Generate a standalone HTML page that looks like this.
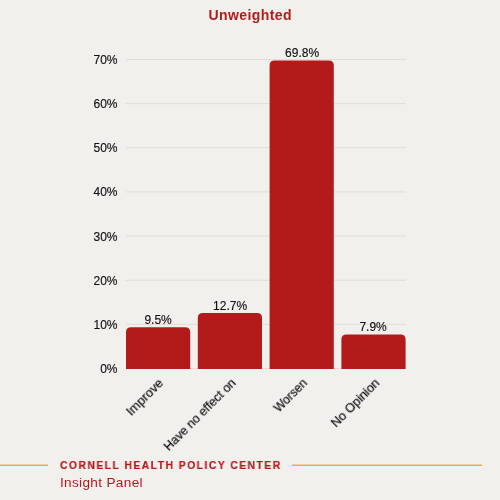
<!DOCTYPE html>
<html><head><meta charset="utf-8">
<style>
*{margin:0;padding:0;box-sizing:border-box}
html,body{width:500px;height:500px;overflow:hidden;background:#f2f0ed;font-family:"Liberation Sans",sans-serif}
.a{position:absolute;will-change:transform}
.title{left:0;width:500px;top:6.8px;text-align:center;font-weight:bold;font-size:14px;color:#b31b1b;letter-spacing:0.4px;padding-left:0.4px}
.yl{left:60px;width:57.5px;text-align:right;font-size:12px;color:#111;-webkit-text-stroke:0.15px #111;line-height:14px}
.g{left:126px;width:280px;height:1px;background:#dfddd9}
.bar{background:#b31b1b;border-radius:4px 4px 0 0;width:64px}
.vl{font-size:12px;color:#111;-webkit-text-stroke:0.15px #111;text-align:center;width:64.2px;line-height:14px}
.xl{font-size:12.5px;color:#0d0d0d;-webkit-text-stroke:0.2px #0d0d0d;white-space:nowrap;transform-origin:right top;transform:rotate(-45deg);text-align:right;line-height:14px}
.ln{height:1px;background:#f7a540;box-shadow:0 -1px 0 rgba(247,165,64,0.45)}
.ft{left:60px;top:458.8px;font-weight:bold;font-size:11.5px;color:#b31b1b;letter-spacing:1.7px;-webkit-text-stroke:0.2px #b31b1b;transform-origin:left top;transform:scaleX(0.893)}
.ip{left:60px;top:475.3px;font-size:13.6px;letter-spacing:0.33px;color:#b31b1b}
</style></head><body>
<div class="a title">Unweighted</div>


<svg class="a" style="left:0;top:0" width="500" height="500" viewBox="0 0 500 500"><rect x="126" y="59.00" width="280" height="1" fill="#dfddd9"/><rect x="126" y="103.14" width="280" height="1" fill="#dfddd9"/><rect x="126" y="147.29" width="280" height="1" fill="#dfddd9"/><rect x="126" y="191.43" width="280" height="1" fill="#dfddd9"/><rect x="126" y="235.57" width="280" height="1" fill="#dfddd9"/><rect x="126" y="279.71" width="280" height="1" fill="#dfddd9"/><rect x="126" y="323.86" width="280" height="1" fill="#dfddd9"/><rect x="126" y="368.00" width="280" height="1" fill="#dfddd9"/><path d="M126.00 369V332.35Q126.00 327.35 131.00 327.35H185.20Q190.20 327.35 190.20 332.35V369Z" fill="#b31b1b"/><path d="M197.80 369V318.05Q197.80 313.05 202.80 313.05H257.00Q262.00 313.05 262.00 318.05V369Z" fill="#b31b1b"/><path d="M269.60 369V65.60Q269.60 60.60 274.60 60.60H328.80Q333.80 60.60 333.80 65.60V369Z" fill="#b31b1b"/><path d="M341.40 369V339.40Q341.40 334.40 346.40 334.40H400.60Q405.60 334.40 405.60 339.40V369Z" fill="#b31b1b"/></svg>
<div class="a yl" style="top:53.00px">70%</div>
<div class="a yl" style="top:97.14px">60%</div>
<div class="a yl" style="top:141.29px">50%</div>
<div class="a yl" style="top:185.43px">40%</div>
<div class="a yl" style="top:229.57px">30%</div>
<div class="a yl" style="top:273.71px">20%</div>
<div class="a yl" style="top:317.86px">10%</div>
<div class="a yl" style="top:362.00px">0%</div>


<div class="a vl" style="left:126px;top:313px">9.5%</div>
<div class="a vl" style="left:197.8px;top:299px">12.7%</div>
<div class="a vl" style="left:269.6px;top:45.6px">69.8%</div>
<div class="a vl" style="left:341.4px;top:320px">7.9%</div>

<div class="a xl" style="right:343.5px;top:376px;font-size:12.8px">Improve</div>
<div class="a xl" style="right:271px;top:376px;font-size:12.25px">Have no effect on</div>
<div class="a xl" style="right:200px;top:376px;font-size:12px">Worsen</div>
<div class="a xl" style="right:127px;top:376px">No Opinion</div>

<div class="a ln" style="left:0;width:48px;top:465px;height:1px"></div>
<div class="a ln" style="left:292px;width:190px;top:465px;height:1px"></div>
<div class="a ft">CORNELL HEALTH POLICY CENTER</div>
<div class="a ip">Insight Panel</div>
</body></html>
